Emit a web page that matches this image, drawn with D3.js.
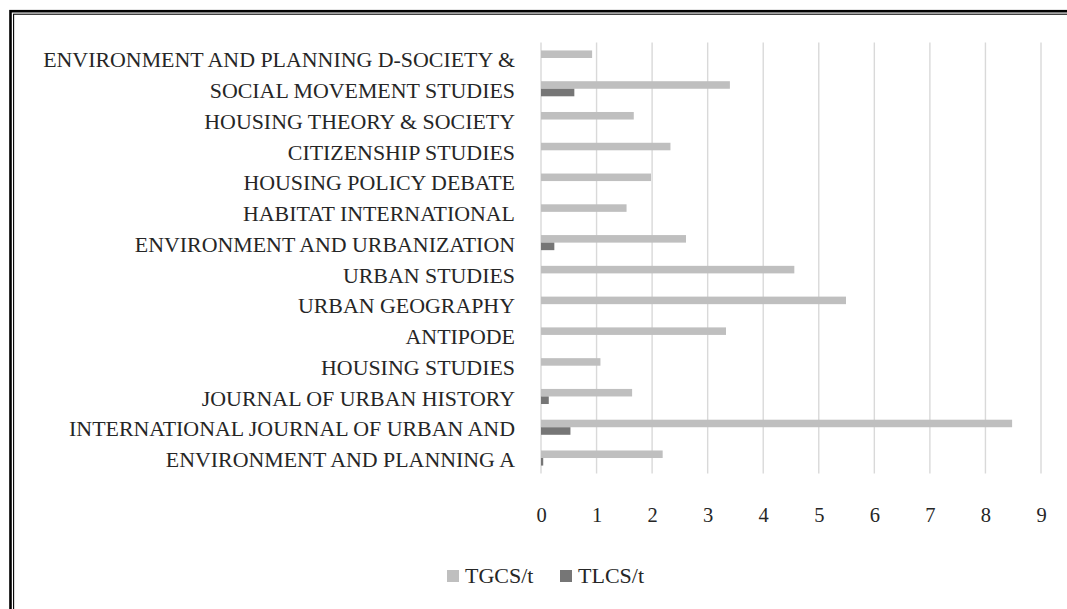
<!DOCTYPE html>
<html>
<head>
<meta charset="utf-8">
<script src="https://cdn.jsdelivr.net/npm/d3@7"></script>
<style>
  html, body { margin: 0; padding: 0; background: #fff; }
  svg { display: block; }
  text { font-family: "Liberation Serif", "DejaVu Serif", serif; fill: #262626; }
</style>
</head>
<body>
<svg id="chart" width="1067" height="609"></svg>
<script>
const categories = [
  "ENVIRONMENT AND PLANNING D-SOCIETY &",
  "SOCIAL MOVEMENT STUDIES",
  "HOUSING THEORY & SOCIETY",
  "CITIZENSHIP STUDIES",
  "HOUSING POLICY DEBATE",
  "HABITAT INTERNATIONAL",
  "ENVIRONMENT AND URBANIZATION",
  "URBAN STUDIES",
  "URBAN GEOGRAPHY",
  "ANTIPODE",
  "HOUSING STUDIES",
  "JOURNAL OF URBAN HISTORY",
  "INTERNATIONAL JOURNAL OF URBAN AND",
  "ENVIRONMENT AND PLANNING A"
];
const seriesNames = ["TGCS/t", "TLCS/t"];
const tgcs = [0.92, 3.40, 1.67, 2.33, 1.98, 1.54, 2.61, 4.56, 5.49, 3.33, 1.07, 1.64, 8.48, 2.19];
const tlcs = [0.00, 0.60, 0.00, 0.00, 0.00, 0.00, 0.24, 0.00, 0.00, 0.00, 0.00, 0.14, 0.53, 0.04];
const xTicks = [0, 1, 2, 3, 4, 5, 6, 7, 8, 9];
const colors = ["#bfbfbf", "#767676"];

const svg = d3.select("#chart");
const FONT = "Liberation Serif, DejaVu Serif, serif";

// double frame
svg.append("rect").attr("x", 10.5).attr("y", 11.2).attr("width", 1200).attr("height", 800)
  .attr("fill", "none").attr("stroke", "#000").attr("stroke-width", 2.6);
svg.append("rect").attr("x", 13.6).attr("y", 14.2).attr("width", 1200).attr("height", 800)
  .attr("fill", "none").attr("stroke", "#000").attr("stroke-width", 1.1);

const x = d3.scaleLinear().domain([0, 9]).range([541, 1041]);
const y = d3.scaleBand().domain(categories).range([42.6, 473.4])
  .paddingInner(0.51).paddingOuter(0.255);
const ys = d3.scaleBand().domain(seriesNames).range([0, y.bandwidth()]);

// gridlines
svg.append("g").selectAll("line").data(xTicks).join("line")
  .attr("x1", d => x(d)).attr("x2", d => x(d))
  .attr("y1", 42.6).attr("y2", 473.4)
  .attr("stroke", "#d9d9d9").attr("stroke-width", 1.4);

// x tick labels via axis
const xAxis = d3.axisBottom(x).tickValues(xTicks).tickSize(0).tickPadding(0).tickFormat(d3.format("d"));
const gx = svg.append("g").attr("transform", "translate(0,507)").call(xAxis);
gx.select(".domain").remove();
gx.selectAll("text").attr("font-size", 20.5).attr("fill", "#262626")
  .attr("font-family", FONT).attr("dy", "0.71em");

// bars
const data = [];
categories.forEach((c, i) => {
  data.push({ c, s: seriesNames[0], v: tgcs[i], k: 0 });
  data.push({ c, s: seriesNames[1], v: tlcs[i], k: 1 });
});
svg.append("g").selectAll("rect").data(data.filter(d => d.v > 0)).join("rect")
  .attr("x", x(0))
  .attr("y", d => y(d.c) + ys(d.s))
  .attr("width", d => x(d.v) - x(0))
  .attr("height", ys.bandwidth())
  .attr("fill", d => colors[d.k]);

// category labels via axis
const yAxis = d3.axisLeft(y).tickSize(0).tickPadding(0);
const gy = svg.append("g").attr("transform", "translate(515,0)").call(yAxis);
gy.select(".domain").remove();
gy.selectAll("text").attr("font-size", 21.9).attr("fill", "#262626")
  .attr("font-family", FONT)
  .attr("dy", "0.42em");

// legend
const legend = svg.append("g");
const lx = [447, 560];
seriesNames.forEach((s, i) => {
  legend.append("rect").attr("x", lx[i]).attr("y", 570).attr("width", 12).attr("height", 12)
    .attr("fill", colors[i]);
  legend.append("text").attr("x", lx[i] + 18).attr("y", 583).attr("font-size", 22)
    .attr("font-family", FONT).text(s);
});
</script>
</body>
</html>
